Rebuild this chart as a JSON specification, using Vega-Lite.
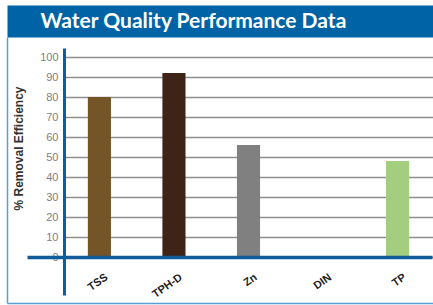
{
  "$schema": "https://vega.github.io/schema/vega-lite/v6.json",
  "autosize": "none",
  "width": 369,
  "height": 247,
  "padding": {"left": 64, "top": 48, "right": 0, "bottom": 10},
  "background": "white",
  "config": {"view": {"stroke": null}, "font": "Liberation Sans"},
  "data": {"values": [
    {"cat": "TSS", "v": 80},
    {"cat": "TPH-D", "v": 92},
    {"cat": "Zn", "v": 56},
    {"cat": "DIN", "v": 0},
    {"cat": "TP", "v": 48}
  ]},
  "layer": [
    {
      "mark": {"type": "bar"},
      "encoding": {
        "x": {"field": "cat", "type": "nominal", "sort": null,
          "scale": {"paddingInner": 0.69, "paddingOuter": 0.32},
          "axis": {"orient": "bottom", "offset": -38, "domain": false, "ticks": false, "title": null,
            "labelAngle": -35, "labelAlign": "right", "labelBaseline": "top", "labelPadding": 14, "labelOffset": 4,
            "labelFont": "Liberation Sans", "labelFontWeight": "bold", "labelFontSize": 11, "labelColor": "#222222", "zindex": 1}},
        "y": {"field": "v", "type": "quantitative",
          "scale": {"domain": [-19, 104.5], "nice": false, "zero": false},
          "axis": {"orient": "left", "values": [0, 10, 20, 30, 40, 50, 60, 70, 80, 90, 100],
            "domainColor": "#135c9a", "domainWidth": 3, "ticks": false,
            "gridColor": "#8f8f8f", "gridWidth": 1.5,
            "labelColor": "#808080", "labelFontSize": 11, "labelPadding": 6, "labelFont": "Liberation Sans",
            "title": "% Removal Efficiency", "titleFont": "Liberation Sans", "titleFontWeight": "bold", "titleFontSize": 12,
            "titleColor": "#333333", "titleY": 100, "titlePadding": 14}},
        "y2": {"datum": 0},
        "color": {"field": "cat", "type": "nominal", "legend": null,
          "scale": {"domain": ["TSS", "TPH-D", "Zn", "DIN", "TP"], "range": ["#745527", "#3e2316", "#808080", "#c9c9c9", "#a3cd7f"]}}
      }
    },
    {
      "mark": {"type": "point", "opacity": 0},
      "encoding": {
        "x": {"field": "cat", "type": "nominal", "sort": null,
          "scale": {"type": "point", "range": [-57, 369]},
          "axis": {"orient": "top", "offset": 27, "domainColor": "#0063a6", "domainWidth": 32, "ticks": false, "labels": false, "grid": false,
            "title": "Water Quality Performance Data", "titleColor": "white", "titleFont": "Lato", "titleFontWeight": "bold", "titleFontSize": 21,
            "titleAlign": "left", "titleAnchor": "start", "titleBaseline": "alphabetic", "titleX": -24, "titleY": 6}},
        "y": {"field": "v", "type": "quantitative",
          "scale": {"range": [255, -11]},
          "axis": {"orient": "left", "offset": 57, "domainColor": "#5a9fd4", "domainWidth": 1.5, "ticks": false, "labels": false, "grid": false, "title": null}}
      }
    },
    {
      "mark": {"type": "point", "opacity": 0},
      "encoding": {
        "x": {"field": "cat", "type": "nominal", "sort": null,
          "scale": {"type": "point", "range": [-37, 368]},
          "axis": {"orient": "bottom", "offset": -38, "domainColor": "#135c9a", "domainWidth": 3.5, "ticks": false, "labels": false, "grid": false, "title": null, "zindex": 2}}
      }
    },
    {
      "mark": {"type": "point", "opacity": 0},
      "encoding": {
        "x": {"field": "cat", "type": "nominal", "sort": null,
          "scale": {"type": "point", "range": [-57, 369]},
          "axis": {"orient": "bottom", "offset": 8, "domainColor": "#5a9fd4", "domainWidth": 1.5, "ticks": false, "labels": false, "grid": false, "title": null}}
      }
    }
  ],
  "resolve": {"scale": {"x": "independent", "y": "independent", "color": "independent"}, "axis": {"x": "independent", "y": "independent"}}
}
